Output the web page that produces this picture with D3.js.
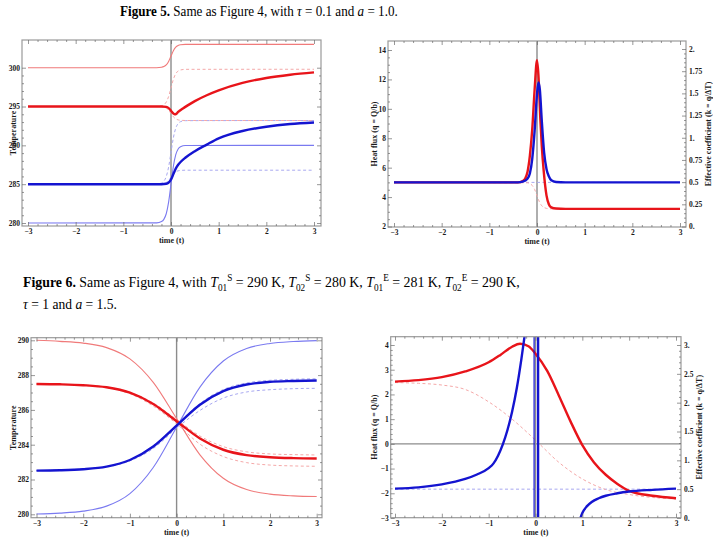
<!DOCTYPE html>
<html><head><meta charset="utf-8">
<script src="https://cdn.jsdelivr.net/npm/d3@7"></script>
<style>body{margin:0;background:#fff;} svg{display:block;font-family:"Liberation Serif","Times New Roman",serif;}</style>
</head><body><svg id="c" width="713" height="541"></svg>
<script>
// ================= DATA =================
const xTicks = [-3,-2,-1,0,1,2,3];
const xTickLabels = ["\u22123","\u22122","\u22121","0","1","2","3"];
const tempTicks5 = [280,285,290,295,300];
const fluxTicks5 = [2,4,6,8,10,12,14];
const coefTicks5 = [0,0.25,0.5,0.75,1,1.25,1.5,1.75,2];
const coefLabels5 = ["0.","0.25","0.5","0.75","1.","1.25","1.5","1.75","2."];
const tempTicks6 = [280,282,284,286,288,290];
const fluxTicks6 = [-3,-2,-1,0,1,2,3,4];
const fluxLabels6 = ["\u22123","\u22122","\u22121","0","1","2","3","4"];
const coefTicks6 = [0,0.5,1,1.5,2,2.5,3];
const coefLabels6 = ["0.","0.5","1.","1.5","2.","2.5","3."];

// Figure 5 – temperatures [t, T]
const f5RedThin = [[-3,300],[-0.3,300],[-0.2,300.05],[-0.15,300.14],[-0.1,300.36],[-0.05,300.81],[0,301.5],[0.05,302.19],[0.1,302.64],[0.15,302.86],[0.2,302.95],[0.3,303],[3,303]];
const f5BlueThin = [[-3,280],[-0.3,280.02],[-0.2,280.18],[-0.15,280.47],[-0.1,281.19],[-0.05,282.69],[0,285],[0.05,287.31],[0.1,288.81],[0.15,289.53],[0.2,289.82],[0.3,289.98],[3,290]];
const f5RedThick = [[-3,295],[-0.2,295],[-0.1,294.95],[-0.05,294.8],[0,294.45],[0.05,294.1],[0.08,294.0],[0.11,294.05],[0.15,294.3],[0.25,294.75],[0.35,295.15],[0.5,295.7],[0.75,296.45],[1,297.08],[1.5,298.04],[2,298.68],[2.5,299.1],[3,299.4]];
const f5BlueThick = [[-3,285],[-0.2,285],[-0.1,285.05],[-0.05,285.2],[0,285.6],[0.05,286.3],[0.1,287.0],[0.15,287.5],[0.2,287.85],[0.3,288.4],[0.5,289.25],[0.75,290.1],[1,290.9],[1.5,291.85],[2,292.4],[2.5,292.75],[3,292.95]];
const f5RedDashUp = [[-3,295],[-0.3,295.01],[-0.2,295.09],[-0.15,295.23],[-0.1,295.57],[-0.05,296.29],[0,297.4],[0.05,298.51],[0.1,299.23],[0.15,299.57],[0.2,299.71],[0.3,299.79],[3,299.8]];
const f5RedDashDown = [[-3,295],[-0.3,295],[-0.2,294.97],[-0.15,294.92],[-0.1,294.79],[-0.05,294.52],[0,294.1],[0.05,293.68],[0.1,293.41],[0.15,293.28],[0.2,293.23],[0.3,293.2],[3,293.2]];
const f5BlueDashUp = [[-3,285],[-0.3,285.02],[-0.2,285.15],[-0.15,285.39],[-0.1,285.98],[-0.05,287.21],[0,289.1],[0.05,290.99],[0.1,292.22],[0.15,292.81],[0.2,293.05],[0.3,293.18],[3,293.2]];
const f5BlueDashDown = [[-3,285],[-0.3,285],[-0.2,285.03],[-0.15,285.08],[-0.1,285.21],[-0.05,285.48],[0,285.9],[0.05,286.32],[0.1,286.59],[0.15,286.72],[0.2,286.77],[0.3,286.8],[3,286.8]];

// Figure 5 – heat flux [t, q]
const f5BlueFlux = [[-3,5],[-0.4,5],[-0.3,5.05],[-0.2,5.25],[-0.15,5.6],[-0.1,6.6],[-0.05,8.5],[0,11],[0.03,11.8],[0.06,11.3],[0.1,9.2],[0.15,7],[0.2,5.9],[0.25,5.4],[0.3,5.15],[0.4,5.03],[0.6,5],[3,5]];
const f5RedFlux = [[-3,5],[-0.4,5],[-0.3,5.1],[-0.25,5.25],[-0.2,5.7],[-0.15,6.8],[-0.1,8.6],[-0.05,11.3],[0,13.3],[0.03,12.3],[0.07,9.3],[0.1,7.5],[0.14,5.8],[0.2,4.1],[0.25,3.5],[0.3,3.3],[0.4,3.22],[0.6,3.2],[3,3.2]];
const f5RedFluxDash = [[-3,5],[-0.2,4.97],[-0.15,4.92],[-0.1,4.79],[-0.05,4.52],[0,4.1],[0.05,3.68],[0.1,3.41],[0.15,3.29],[0.2,3.23],[0.3,3.2],[3,3.2]];
const f5BlueFluxDash = [[-3,5],[3,5]];

// Figure 6 – temperatures
const f6Times = [-3,-2.5,-2,-1.5,-1,-0.5,0,0.5,1,1.5,2,2.5,3];
const f6RedThin = [290,289.94,289.84,289.58,288.93,287.58,285.5,283.42,282.07,281.42,281.16,281.06,281.02];
const f6BlueThin = [280.02,280.07,280.18,280.47,281.19,282.69,285,287.31,288.81,289.53,289.82,289.93,289.98];
const f6RedThick = [287.49,287.47,287.42,287.30,286.99,286.34,285.35,284.36,283.71,283.40,283.28,283.23,283.21];
const f6BlueThick = [282.51,282.53,282.59,282.74,283.12,283.90,285.1,286.30,287.08,287.46,287.61,287.66,287.69];
const f6BlueDashUp = [282.51,282.54,282.6,282.75,283.13,283.93,285.15,286.37,287.17,287.55,287.7,287.76,287.79];
const f6BlueDashDown = [282.51,282.53,282.59,282.72,283.07,283.78,284.95,285.97,286.68,287.03,287.16,287.22,287.24];
const f6RedDashUp = [287.49,287.47,287.43,287.31,287.01,286.4,285.45,284.5,283.89,283.59,283.47,283.43,283.41];
const f6RedDashDown = [287.49,287.47,287.41,287.28,286.93,286.22,285.2,284.03,283.32,282.97,282.83,282.78,282.76];

// Figure 6 – heat flux / coefficient
const f6RedFlux = [[-3,2.52],[-2.5,2.58],[-2,2.7],[-1.5,2.93],[-1,3.3],[-0.75,3.6],[-0.5,3.93],[-0.33,4.05],[-0.15,3.95],[0,3.65],[0.25,2.95],[0.5,1.95],[0.75,0.9],[1,-0.05],[1.25,-0.75],[1.5,-1.25],[1.75,-1.62],[2,-1.9],[2.5,-2.1],[3,-2.2]];
const f6RedFluxDash = [[-3,2.48],[-2.5,2.45],[-2,2.38],[-1.5,2.2],[-1,1.7],[-0.5,1.0],[0,0.15],[0.5,-0.75],[1,-1.42],[1.5,-1.85],[2,-2.05],[2.5,-2.17],[3,-2.23]];
const f6BlueCoefLeft = [[-3,-1.81],[-2.5,-1.76],[-2,-1.64],[-1.5,-1.42],[-1.25,-1.24],[-1,-0.98],[-0.9,-0.8],[-0.8,-0.48],[-0.7,-0.03],[-0.6,0.55],[-0.5,1.3],[-0.4,2.25],[-0.3,3.45],[-0.23,4.4]];
const f6BlueCoefRight = [[0.96,-3.0],[1.0,-2.8],[1.1,-2.52],[1.2,-2.35],[1.35,-2.2],[1.5,-2.1],[1.75,-2.0],[2,-1.93],[2.5,-1.86],[3,-1.81]];
const f6BluePoles = [-0.03, 0.055];
const f6BlueCoefDash = [[-3,0.5],[3,0.5]]; // right axis units

// ================= DRAWING =================
const svg = d3.select("#c");
const C = {
  red:"#e8141a", redThin:"#f07a7a", redDash:"#f4a8a8",
  blue:"#1414d0", blueThin:"#7a7af0", blueDash:"#a8a8f0",
  frame:"#9a9a9a", tick:"#6a6a6a", text:"#1a1a1a", ref:"#8c8c8c"
};
let clipId = 0;

function minorVals(lo, hi, step, majors){
  const out=[]; const n=Math.round((hi-lo)/step);
  for(let i=0;i<=n;i++){const v=+(lo+i*step).toFixed(6); if(!majors.some(m=>Math.abs(m-v)<1e-9)) out.push(v);}
  return out;
}

function panel(cfg){
  const f = cfg.frame;
  const g = svg.append("g");
  const x = d3.scaleLinear().domain([-3,3]).range(cfg.xr);
  const y = d3.scaleLinear().domain(cfg.yd).range(cfg.yr);
  const yR = cfg.yRd ? d3.scaleLinear().domain(cfg.yRd).range(cfg.yRr) : null;
  const id = "clip"+(clipId++);
  g.append("clipPath").attr("id",id).append("rect")
    .attr("x",f.l).attr("y",f.t).attr("width",f.r-f.l).attr("height",f.b-f.t);
  const plot = g.append("g").attr("clip-path",`url(#${id})`);

  plot.append("line").attr("x1",x(0)).attr("x2",x(0)).attr("y1",f.t).attr("y2",f.b)
    .attr("stroke",C.ref).attr("stroke-width",1.4);
  if(cfg.hzero){
    plot.append("line").attr("x1",f.l).attr("x2",f.r).attr("y1",y(0)).attr("y2",y(0))
      .attr("stroke",C.ref).attr("stroke-width",1.2);
  }
  const line = (sc)=>d3.line().x(d=>x(d[0])).y(d=>sc(d[1])).curve(d3.curveMonotoneX);
  cfg.series.forEach(s=>{
    const sc = s.right ? yR : y;
    plot.append("path").datum(s.data).attr("d",line(sc))
      .attr("fill","none").attr("stroke",s.color).attr("stroke-width",s.w)
      .attr("stroke-dasharray",s.dash||null).attr("stroke-linejoin","round");
  });
  if(cfg.poles){
    cfg.poles.forEach((p,i)=>{
      plot.append("line").attr("x1",x(p)).attr("x2",x(p)).attr("y1",f.t).attr("y2",f.b)
        .attr("stroke",C.blue).attr("stroke-width",i===0?1.2:2.4);
    });
  }

  g.append("rect").attr("x",f.l).attr("y",f.t).attr("width",f.r-f.l).attr("height",f.b-f.t)
    .attr("fill","none").attr("stroke",C.frame).attr("stroke-width",1.2);

  const style = (a)=>{
    a.select(".domain").remove();
    a.selectAll("line").attr("stroke",C.tick).attr("stroke-width",0.7);
    a.selectAll("text").attr("fill",C.text).style("font-size","7.5px").style("font-weight","bold")
      .style("font-family",'"Liberation Serif",serif');
  };
  const xMinor = minorVals(-3,3,0.2,xTicks);
  g.append("g").attr("transform",`translate(0,${f.b})`)
    .call(d3.axisBottom(x).tickValues(xTicks).tickSize(-4).tickPadding(3).tickFormat((d,i)=>xTickLabels[i])).call(style);
  g.append("g").attr("transform",`translate(0,${f.b})`)
    .call(d3.axisBottom(x).tickValues(xMinor).tickSize(-2).tickFormat("")).call(style);
  g.append("g").attr("transform",`translate(0,${f.t})`)
    .call(d3.axisTop(x).tickValues(xTicks).tickSize(-4).tickFormat("")).call(style);
  g.append("g").attr("transform",`translate(0,${f.t})`)
    .call(d3.axisTop(x).tickValues(xMinor).tickSize(-2).tickFormat("")).call(style);
  const yMin = minorVals(cfg.yd[0],cfg.yTicks[cfg.yTicks.length-1],cfg.yMinor,cfg.yTicks);
  g.append("g").attr("transform",`translate(${f.l},0)`)
    .call(d3.axisLeft(y).tickValues(cfg.yTicks).tickSize(-4).tickPadding(2).tickFormat((d,i)=>cfg.yLabels[i])).call(style);
  g.append("g").attr("transform",`translate(${f.l},0)`)
    .call(d3.axisLeft(y).tickValues(yMin).tickSize(-2).tickFormat("")).call(style);
  if(yR){
    const rMin = minorVals(cfg.yRd[0],cfg.yRTicks[cfg.yRTicks.length-1],cfg.yRMinor,cfg.yRTicks);
    g.append("g").attr("transform",`translate(${f.r},0)`)
      .call(d3.axisRight(yR).tickValues(cfg.yRTicks).tickSize(-4).tickPadding(3).tickFormat((d,i)=>cfg.yRLabels[i])).call(style);
    g.append("g").attr("transform",`translate(${f.r},0)`)
      .call(d3.axisRight(yR).tickValues(rMin).tickSize(-2).tickFormat("")).call(style);
  } else {
    g.append("g").attr("transform",`translate(${f.r},0)`)
      .call(d3.axisRight(y).tickValues(cfg.yTicks).tickSize(-4).tickFormat("")).call(style);
    g.append("g").attr("transform",`translate(${f.r},0)`)
      .call(d3.axisRight(y).tickValues(yMin).tickSize(-2).tickFormat("")).call(style);
  }
  const lab = (txt,x0,y0,rot)=>g.append("text").attr("transform",`translate(${x0},${y0}) rotate(${rot})`)
    .attr("text-anchor","middle").attr("dominant-baseline","central").attr("fill",C.text)
    .style("font-size","8px").style("font-weight","bold").text(txt);
  lab("time (t)", (f.l+f.r)/2 + cfg.xlabDx, f.b+14.5, 0);
  lab(cfg.yTitle, cfg.yTitleX, (f.t+f.b)/2, -90);
  if(cfg.yRTitle) lab(cfg.yRTitle, cfg.yRTitleX, (f.t+f.b)/2, -90);
}

const pairs = (ts,vs)=>ts.map((t,i)=>[t,vs[i]]);

panel({
  frame:{l:22,r:321,t:40,b:226}, xr:[28,314], yd:[280,300], yr:[223,67.7],
  yTicks:tempTicks5, yLabels:tempTicks5.map(String), yMinor:1,
  yTitle:"Temperature", yTitleX:13, xlabDx:0,
  series:[
    {data:f5BlueDashUp,color:C.blueDash,w:1,dash:"3,2.5"},
    {data:f5BlueDashDown,color:C.blueDash,w:1,dash:"3,2.5"},
    {data:f5RedDashUp,color:C.redDash,w:1,dash:"3,2.5"},
    {data:f5RedDashDown,color:C.redDash,w:1,dash:"3,2.5"},
    {data:f5RedThin,color:C.redThin,w:1.1},
    {data:f5BlueThin,color:C.blueThin,w:1.1},
    {data:f5RedThick,color:C.red,w:2.4},
    {data:f5BlueThick,color:C.blue,w:2.4}
  ]
});
panel({
  frame:{l:388,r:686,t:41,b:227}, xr:[394,680], yd:[2,14], yr:[226.5,50],
  yTicks:fluxTicks5, yLabels:fluxTicks5.map(String), yMinor:0.5,
  yRd:[0,2], yRr:[226.5,49], yRTicks:coefTicks5, yRLabels:coefLabels5, yRMinor:0.05,
  yTitle:"Heat flux (q = Q/b)", yTitleX:374, yRTitle:"Effective coefficient (k = q/\u0394T)", yRTitleX:708, xlabDx:0,
  series:[
    {data:f5BlueFluxDash,color:C.blueDash,w:1,dash:"3,2.5"},
    {data:f5RedFluxDash,color:C.redDash,w:1,dash:"3,2.5"},
    {data:f5RedFlux,color:C.red,w:2.4},
    {data:f5BlueFlux,color:C.blue,w:2.4}
  ]
});
panel({
  frame:{l:31,r:322,t:337.7,b:517.7}, xr:[36.5,316.7], yd:[280,290], yr:[514.3,340.3],
  yTicks:tempTicks6, yLabels:tempTicks6.map(String), yMinor:0.5,
  yTitle:"Temperature", yTitleX:13, xlabDx:0,
  series:[
    {data:pairs(f6Times,f6BlueDashUp),color:C.blueDash,w:1,dash:"3,2.5"},
    {data:pairs(f6Times,f6BlueDashDown),color:C.blueDash,w:1,dash:"3,2.5"},
    {data:pairs(f6Times,f6RedDashUp),color:C.redDash,w:1,dash:"3,2.5"},
    {data:pairs(f6Times,f6RedDashDown),color:C.redDash,w:1,dash:"3,2.5"},
    {data:pairs(f6Times,f6RedThin),color:C.redThin,w:1.1},
    {data:pairs(f6Times,f6BlueThin),color:C.blueThin,w:1.1},
    {data:pairs(f6Times,f6RedThick),color:C.red,w:2.4},
    {data:pairs(f6Times,f6BlueThick),color:C.blue,w:2.4}
  ]
});
panel({
  frame:{l:390.7,r:681,t:336.7,b:517.7}, xr:[395,676], yd:[-3,4], yr:[518,345], hzero:true,
  yTicks:fluxTicks6, yLabels:fluxLabels6, yMinor:0.2,
  yRd:[0,3], yRr:[518,345], yRTicks:coefTicks6, yRLabels:coefLabels6, yRMinor:0.1,
  yTitle:"Heat flux (q = Q/b)", yTitleX:374, yRTitle:"Effective coefficient (k = q/\u0394T)", yRTitleX:699, xlabDx:0,
  poles:f6BluePoles,
  series:[
    {data:f6BlueCoefDash,color:C.blueDash,w:1,dash:"3,2.5",right:true},
    {data:f6RedFluxDash,color:C.redDash,w:1,dash:"3,2.5"},
    {data:f6RedFlux,color:C.red,w:2.4},
    {data:f6BlueCoefLeft,color:C.blue,w:2.4},
    {data:f6BlueCoefRight,color:C.blue,w:2.4}
  ]
});

// ================= CAPTIONS =================
function caption(x0, y0, targetW, build){
  const t = svg.append("text").attr("x",0).attr("y",0).attr("fill","#000").style("font-size","15px");
  build(t);
  const w = t.node().getComputedTextLength();
  t.attr("transform",`translate(${x0},${y0}) scale(${targetW/w},1)`);
}
const ts = (t,txt,o={})=>{const s=t.append("tspan").text(txt);
  if(o.b) s.style("font-weight","bold"); if(o.i) s.style("font-style","italic");
  if(o.fs) s.style("font-size",o.fs); if(o.dy!==undefined) s.attr("dy",o.dy); return s;};

caption(120, 15.5, 278, t=>{
  ts(t,"Figure 5.",{b:1}); ts(t," Same as Figure 4, with "); ts(t,"\u03C4",{i:1});
  ts(t," = 0.1 and "); ts(t,"a",{i:1}); ts(t," = 1.0.");
});
caption(23, 287, 497, t=>{
  ts(t,"Figure 6.",{b:1}); ts(t," Same as Figure 4, with ");
  const T=(sub,sup,rest)=>{ ts(t,"T",{i:1}); ts(t,sub,{fs:"10px",dy:4}); ts(t,sup,{fs:"10px",dy:-10}); ts(t,rest,{dy:6}); };
  T("01","S"," = 290 K, "); T("02","S"," = 280 K, "); T("01","E"," = 281 K, "); T("02","E"," = 290 K,");
});
caption(23, 308.5, 94, t=>{
  ts(t,"\u03C4",{i:1}); ts(t," = 1 and "); ts(t,"a",{i:1}); ts(t," = 1.5.");
});
</script></body></html>
